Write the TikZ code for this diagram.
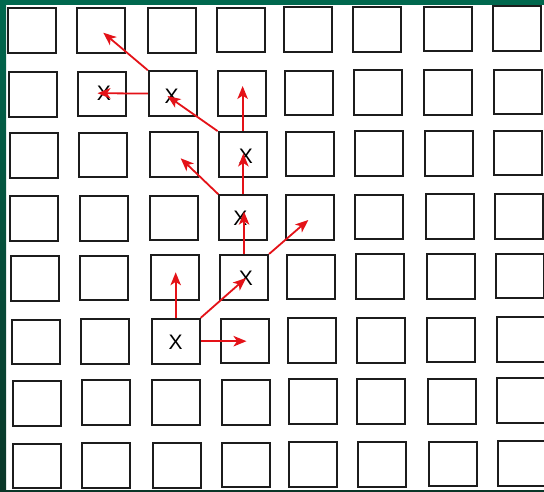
\documentclass[tikz,border=0pt]{standalone}
\usepackage{fontspec}
\setmainfont{Liberation Sans}
\usetikzlibrary{arrows.meta}
\definecolor{gtop}{RGB}{0,104,78}
\definecolor{gbot}{RGB}{10,54,40}
\definecolor{arrred}{RGB}{228,18,24}
\definecolor{boxline}{RGB}{28,28,28}
\begin{document}
\begin{tikzpicture}[x=1pt,y=-1pt,
  cell/.style={draw=boxline, line width=2pt, minimum width=48pt, minimum height=44.7pt, inner sep=0pt, fill=white},
  xtxt/.style={font=\fontsize{21}{21}\selectfont, inner sep=0pt, text=black},
  arr/.style={draw=arrred, line width=1.8pt, -{Stealth[length=13pt,width=10.5pt,inset=3.5pt]}}]
\useasboundingbox (0,0) rectangle (544,492);
\clip (0,0) rectangle (544,492);
\fill[white] (0,0) rectangle (544,492);
\shade[top color=gtop, bottom color=gbot] (0,0) rectangle (6,492);
\fill[gtop] (0,0) rectangle (544,5);
\fill[gbot] (0,489.5) rectangle (544,492);
% grid of boxes
\def\colL{{7.3,76.4,147.1,216.2,283.2,352.1,422.7,491.9}}
\def\rowT{{7.5,70.9,132.1,195.3,255.0,318.5,379.8,442.5}}
\foreach \r in {0,...,7}{
  \foreach \c in {0,...,7}{
    \pgfmathsetmacro\cx{\colL[\c]+0.72*\r+25}
    \pgfmathsetmacro\cy{\rowT[\r]-0.33*\c+23.35}
    \node[cell] (b\r\c) at (\cx,\cy) {};
  }
}
% X marks
\node[xtxt] (x11) at (104,93) {X};
\node[xtxt] (x12) at (171.7,96.3) {X};
\node[xtxt] (x23) at (246,156) {X};
\node[xtxt] (x33) at (240.3,218.3) {X};
\node[xtxt] (x43) at (246,278) {X};
\node[xtxt] (x52) at (175.7,342.5) {X};
% arrow tips
\coordinate (t1) at (176.7,272.3);
\coordinate (t2) at (246.5,344);
\coordinate (t3) at (308.3,220);
\coordinate (t4) at (180.7,158.3);
\coordinate (t5) at (241.7,86);
\coordinate (t6) at (103.3,32.7);
\coordinate (t7) at (243,211.7);
\coordinate (t8) at (242,153.5);
\coordinate (t9) at (167.5,96);
\coordinate (tleft) at (97.5,93.2);
% arrows
\draw[arr] (b52.north) -- (b52.north |- t1);
\draw[arr] (b52.north east) -- (x43.center);
\draw[arr] (b52.east) -- (b52.east -| t2);
\draw[arr] (b43.north) -- (b43.north |- t7);
\draw[arr] (b43.north east) -- (t3);
\draw[arr] (b33.north) -- (b33.north |- t8);
\draw[arr] (b33.north west) -- (t4);
\draw[arr] (b23.north) -- (b23.north |- t5);
\draw[arr] (b23.north west) -- (t9);
\draw[arr] (b12.west) -- (tleft);
\draw[arr] (b12.north west) -- (t6);
\end{tikzpicture}
\end{document}
